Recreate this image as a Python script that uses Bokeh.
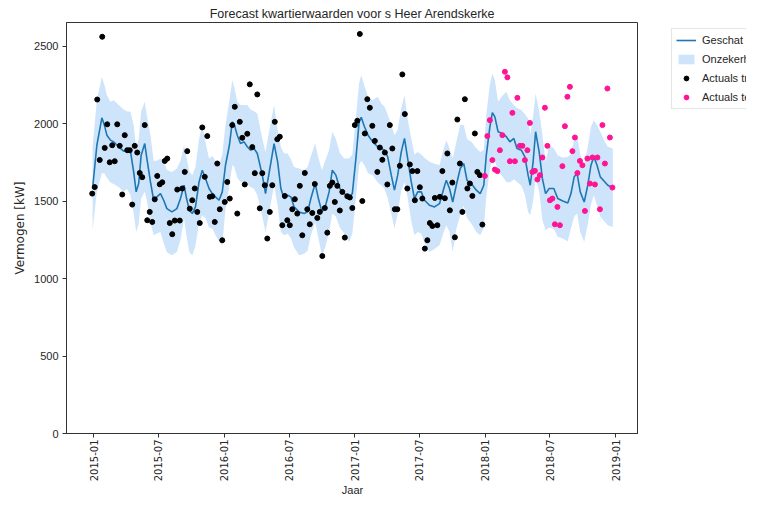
import pandas as pd
from bokeh.plotting import figure
from bokeh.layouts import row
from bokeh.models import (Range1d, FixedTicker, DatetimeTickFormatter, Legend,
                          LegendItem)
from bokeh.embed import file_html
from bokeh.resources import INLINE
import math

# ---------------- data ----------------
chart_title = "Forecast kwartierwaarden voor s Heer Arendskerke"
x_label = "Jaar"
y_label = "Vermogen [kW]"
series_names = ["Geschat vermogen", "Onzekerheidsinterval", "Actuals train set", "Actuals test set"]

train_start = "2014-12-28"   # weekly actuals, train period
test_start = "2017-12-31"    # weekly actuals, test period

train_values = [
    1548, 1590, 2155, 1765, 2560, 1843, 1995, 1750, 1860, 1757, 1995, 1856, 1542, 1925, 1828, 1828, 1477, 1856,
    1813, 1681, 1654, 1990, 1376, 1430, 1365, 1511, 1662, 1608, 1621, 1759, 1774, 1358, 1286, 1374, 1574, 1374,
    1581, 1688, 1822, 1451, 1505, 1581, 1430, 1358, 1975, 1656, 1919, 1527, 1531, 1365, 1742, 1447, 1247, 1494,
    1623, 1516, 1990, 2108, 1419, 2011, 1908, 1607, 1934, 2253, 1848, 1680, 2188, 1453, 1680, 1602, 1258, 1430, 1602,
    2011, 1899, 1915, 1344, 1533, 1376, 1344, 1447, 1512, 1419, 1598, 1279, 1681, 1447, 1350, 1423, 1610, 1391,
    1430, 1145, 1455, 1296, 1598, 1619, 1494, 1598, 1439, 1559, 1264, 1531, 1523, 1455, 1990, 2018, 2578, 1500, 1936,
    2157, 2102, 1985, 1888, 1688, 1845, 1766, 1813, 1607, 1990, 1839, 1447, 1447, 1727, 2317, 2061, 1581, 1736,
    1693, 1505, 1693, 1589, 1516, 1193, 1247, 1358, 1339, 1520, 1344, 1527, 1693, 1518, 1807, 1440, 1619, 1266, 2026,
    1742, 1430, 2157, 1581, 1613, 1533, 1936, 1688, 1667, 1348,
]

test_values = [
    1662, 1919, 2022, 1764, 1703, 1693, 1828, 1925, 2334, 2298, 1757, 2069, 1757, 2166, 1856, 1856, 1764, 1828,
    2004, 1688, 1695, 1639, 1667, 1781, 2102, 1856, 1505, 1516, 1350, 1462, 1344, 1725, 1983, 2173, 2237, 1822,
    1910, 1681, 1759, 1731, 1436, 1774, 1613, 1781, 1607, 1781, 1447, 1990, 1742, 2226, 1910, 1587,
]

fc_dates = [
    "2014-12-29", "2015-01-10", "2015-01-24", "2015-01-31", "2015-02-07", "2015-02-17", "2015-02-26", "2015-03-12", "2015-03-26", "2015-04-04",
    "2015-04-14", "2015-04-23", "2015-04-30", "2015-05-07", "2015-05-14", "2015-05-24", "2015-05-30", "2015-06-09", "2015-06-18", "2015-06-27",
    "2015-07-07", "2015-07-16", "2015-07-25", "2015-08-08", "2015-08-22", "2015-09-01", "2015-09-11", "2015-09-18", "2015-09-26", "2015-10-04",
    "2015-10-13", "2015-10-23", "2015-11-01", "2015-11-10", "2015-11-20", "2015-11-29", "2015-12-08", "2015-12-18", "2015-12-27", "2016-01-05",
    "2016-01-16", "2016-01-24", "2016-01-30", "2016-02-07", "2016-02-16", "2016-02-26", "2016-03-06", "2016-03-15", "2016-03-25", "2016-04-03",
    "2016-04-17", "2016-04-26", "2016-05-06", "2016-05-20", "2016-05-30", "2016-06-08", "2016-06-17", "2016-06-27", "2016-07-06", "2016-07-15",
    "2016-07-29", "2016-08-12", "2016-08-22", "2016-08-31", "2016-09-12", "2016-09-21", "2016-10-01", "2016-10-10", "2016-10-21", "2016-10-30",
    "2016-11-09", "2016-11-20", "2016-12-02", "2016-12-16", "2016-12-25", "2017-01-04", "2017-01-13", "2017-01-19", "2017-01-28", "2017-02-07",
    "2017-02-20", "2017-03-06", "2017-03-16", "2017-03-25", "2017-04-03", "2017-04-13", "2017-04-22", "2017-05-01", "2017-05-11", "2017-05-20",
    "2017-05-29", "2017-06-08", "2017-06-17", "2017-06-26", "2017-07-06", "2017-07-15", "2017-07-29", "2017-08-12", "2017-08-26", "2017-09-07",
    "2017-09-14", "2017-09-23", "2017-10-02", "2017-10-12", "2017-10-23", "2017-11-02", "2017-11-11", "2017-11-23", "2017-12-07", "2017-12-18",
    "2017-12-28", "2018-01-04", "2018-01-14", "2018-01-21", "2018-01-28", "2018-02-06", "2018-02-18", "2018-03-01", "2018-03-11", "2018-03-22",
    "2018-03-31", "2018-04-12", "2018-04-22", "2018-05-01", "2018-05-07", "2018-05-15", "2018-05-22", "2018-06-01", "2018-06-10", "2018-06-19",
    "2018-06-29", "2018-07-12", "2018-07-23", "2018-08-06", "2018-08-20", "2018-08-29", "2018-09-07", "2018-09-15", "2018-09-24", "2018-10-05",
    "2018-10-15", "2018-10-24", "2018-11-01", "2018-11-10", "2018-11-19", "2018-11-30", "2018-12-10", "2018-12-24",
]

fc_yhat = [
    1581, 1860, 2037, 1990, 1925, 1893, 1882, 1850, 1822, 1828,
    1822, 1688, 1559, 1613, 1796, 1871, 1774, 1623, 1505, 1527,
    1548, 1505, 1451, 1430, 1451, 1516, 1602, 1516, 1440, 1419,
    1462, 1623, 1699, 1645, 1581, 1548, 1527, 1505, 1559, 1731,
    1860, 2011, 1990, 1925, 1871, 1882, 1850, 1828, 1839, 1807,
    1667, 1548, 1680, 1871, 1753, 1581, 1516, 1537, 1527, 1462,
    1430, 1419, 1430, 1516, 1613, 1516, 1430, 1462, 1559, 1699,
    1667, 1581, 1548, 1527, 1548, 1774, 2011, 2040, 1979, 1925,
    1882, 1850, 1839, 1828, 1785, 1667, 1570, 1667, 1817, 1904,
    1774, 1623, 1516, 1559, 1559, 1505, 1473, 1462, 1483, 1581,
    1634, 1581, 1494, 1602, 1710, 1742, 1634, 1613, 1570, 1548,
    1602, 1796, 1979, 2071, 2043, 1947, 1936, 1915, 1882, 1904,
    1839, 1828, 1785, 1667, 1602, 1753, 1947, 1817, 1645, 1548,
    1581, 1581, 1516, 1500, 1488, 1548, 1656, 1678, 1559, 1494,
    1602, 1731, 1785, 1731, 1656, 1628, 1602, 1585,
]

fc_upper = [
    1850, 2150, 2302, 2250, 2183, 2140, 2150, 2119, 2090, 2080,
    2076, 1990, 1839, 1900, 2080, 2140, 2050, 1925, 1760, 1760,
    1774, 1760, 1700, 1688, 1710, 1760, 1860, 1780, 1690, 1667,
    1720, 1900, 1990, 1880, 1774, 1790, 1760, 1731, 1800, 1990,
    2150, 2280, 2230, 2140, 2119, 2119, 2119, 2090, 2080, 2065,
    1904, 1817, 1950, 2119, 1960, 1850, 1807, 1807, 1770, 1720,
    1710, 1700, 1720, 1790, 1871, 1780, 1699, 1760, 1830, 1947,
    1900, 1810, 1774, 1774, 1800, 2040, 2260, 2313, 2240, 2173,
    2150, 2173, 2130, 2108, 2060, 1990, 1925, 1960, 2100, 2183,
    2030, 1904, 1800, 1817, 1800, 1780, 1753, 1740, 1731, 1840,
    1893, 1840, 1774, 1880, 1990, 1990, 1900, 1882, 1840, 1817,
    1830, 2060, 2250, 2323, 2280, 2140, 2180, 2205, 2150, 2119,
    2100, 2087, 2060, 2033, 1930, 2050, 2194, 2080, 1930, 1753,
    1860, 1840, 1796, 1780, 1785, 1800, 1900, 1925, 1800, 1731,
    1850, 1980, 2022, 1990, 1947, 1890, 1850, 1839,
]

fc_lower = [
    1311, 1560, 1680, 1680, 1650, 1620, 1610, 1590, 1560, 1580,
    1540, 1420, 1300, 1350, 1520, 1560, 1500, 1360, 1280, 1290,
    1300, 1230, 1170, 1150, 1171, 1250, 1387, 1270, 1170, 1150,
    1210, 1360, 1408, 1390, 1330, 1322, 1280, 1240, 1214, 1450,
    1600, 1731, 1720, 1650, 1623, 1620, 1610, 1590, 1580, 1537,
    1400, 1300, 1420, 1602, 1470, 1300, 1279, 1290, 1260, 1200,
    1150, 1160, 1180, 1280, 1365, 1260, 1150, 1200, 1300, 1420,
    1400, 1330, 1290, 1236, 1290, 1520, 1731, 1760, 1731, 1680,
    1667, 1620, 1602, 1580, 1520, 1420, 1322, 1420, 1570, 1623,
    1520, 1370, 1279, 1300, 1290, 1230, 1171, 1190, 1214, 1300,
    1344, 1300, 1171, 1320, 1408, 1470, 1390, 1355, 1300, 1279,
    1330, 1530, 1700, 1774, 1760, 1690, 1660, 1623, 1620, 1640,
    1623, 1600, 1540, 1430, 1408, 1500, 1650, 1560, 1380, 1311,
    1330, 1320, 1270, 1258, 1240, 1322, 1400, 1420, 1300, 1236,
    1350, 1480, 1537, 1470, 1400, 1370, 1344, 1333,
]

x_tick_labels = ["2015-01", "2015-07", "2016-01", "2016-07", "2017-01",
                 "2017-07", "2018-01", "2018-07", "2019-01"]
y_ticks = [0, 500, 1000, 1500, 2000, 2500]

# ---------------- style ----------------
SANS = "Liberation Sans"
TXT = "#262626"
LINE_C = "#1f77b4"
BAND_C = "#cde4fb"
TRAIN_C = "black"
TEST_C = "#ff1493"

# ---------------- main plot ----------------
train_dates = pd.date_range(train_start, periods=len(train_values), freq="7D")
test_dates = pd.date_range(test_start, periods=len(test_values), freq="7D")
fc_x = pd.to_datetime(fc_dates)

p = figure(
    x_axis_type="datetime",
    frame_width=572, frame_height=411,
    min_border_left=66, min_border_right=0, min_border_top=22, min_border_bottom=62,
    x_range=Range1d(pd.Timestamp("2014-10-17"), pd.Timestamp("2019-03-06")),
    y_range=Range1d(0, 2652),
    output_backend="svg", toolbar_location=None,
    background_fill_color="white", border_fill_color="white",
)
p.xgrid.visible = False
p.ygrid.visible = False
p.outline_line_color = "#333333"
p.outline_line_width = 1

p.varea(x=fc_x, y1=fc_lower, y2=fc_upper, fill_color=BAND_C, fill_alpha=1.0)
p.line(fc_x, fc_yhat, line_color=LINE_C, line_width=1.6)
p.scatter(train_dates, train_values, size=5, color=TRAIN_C)
p.scatter(test_dates, test_values, size=5, color=TEST_C)

p.title.text = chart_title
p.title.align = "center"
p.title.text_font = SANS
p.title.text_font_size = "12.5px"
p.title.text_font_style = "normal"
p.title.text_color = TXT
p.title.standoff = 4

tick_ms = [pd.Timestamp(s + "-01").value / 1e6 for s in x_tick_labels]
p.xaxis.ticker = FixedTicker(ticks=tick_ms)
fmt = "%Y-%m"
p.xaxis.formatter = DatetimeTickFormatter(
    microseconds=fmt, milliseconds=fmt, seconds=fmt, minsec=fmt, minutes=fmt,
    hourmin=fmt, hours=fmt, days=fmt, months=fmt, years=fmt)
p.xaxis.major_label_orientation = math.pi / 2
p.xaxis.major_label_text_font = "DejaVu Sans"
p.xaxis.major_label_text_font_size = "10px"
p.xaxis.major_label_standoff = 2
p.xaxis.axis_label = x_label
p.xaxis.axis_label_standoff = 0
p.xaxis.axis_label_text_font = SANS
p.xaxis.axis_label_text_font_size = "11px"

p.yaxis.ticker = FixedTicker(ticks=y_ticks)
p.yaxis.major_label_text_font = SANS
p.yaxis.major_label_text_font_size = "11px"
p.yaxis.major_label_standoff = 4
p.yaxis.axis_label = y_label
p.yaxis.axis_label_standoff = 4
p.yaxis.axis_label_text_font = "DejaVu Sans"
p.yaxis.axis_label_text_font_size = "12px"

for ax in (p.xaxis, p.yaxis):
    ax.axis_label_text_font_style = "normal"
    ax.axis_label_text_color = TXT
    ax.major_label_text_color = TXT
    ax.axis_line_color = "#333333"
    ax.major_tick_line_color = "#333333"
    ax.major_tick_out = 4
    ax.major_tick_in = 0
    ax.minor_tick_line_color = None

# ---------------- legend panel (to the right of the plot) ----------------
lp = figure(
    width=108, height=495, min_border=0,
    x_range=Range1d(0, 1), y_range=Range1d(0, 1),
    x_axis_location=None, y_axis_location=None,
    output_backend="svg", toolbar_location=None,
    background_fill_color="white", border_fill_color="white",
)
lp.xgrid.visible = False
lp.ygrid.visible = False
lp.outline_line_color = None

# legend-key renderers, kept outside the visible range of this panel
off = [5, 6]
k_line = lp.line(off, off, line_color=LINE_C, line_width=1.6)
k_band = lp.varea(x=off, y1=[5, 5], y2=[6, 6], fill_color=BAND_C, fill_alpha=1.0)
k_train = lp.scatter(off, off, size=5, color=TRAIN_C)
k_test = lp.scatter(off, off, size=5, color=TEST_C)

legend = Legend(
    items=[LegendItem(label=series_names[0], renderers=[k_line]),
           LegendItem(label=series_names[1], renderers=[k_band]),
           LegendItem(label=series_names[2], renderers=[k_train]),
           LegendItem(label=series_names[3], renderers=[k_test])],
    location=(33, 320),
    label_text_font=SANS, label_text_font_size="11px", label_text_color=TXT,
    glyph_width=20, glyph_height=12, label_height=14, spacing=5, padding=4,
    label_standoff=6, margin=0,
    border_line_color="#cccccc", border_line_width=1,
    background_fill_color="white", background_fill_alpha=1.0,
)
lp.add_layout(legend)

layout = row(p, lp, spacing=0)
open("out.html", "w").write(file_html(layout, INLINE))
